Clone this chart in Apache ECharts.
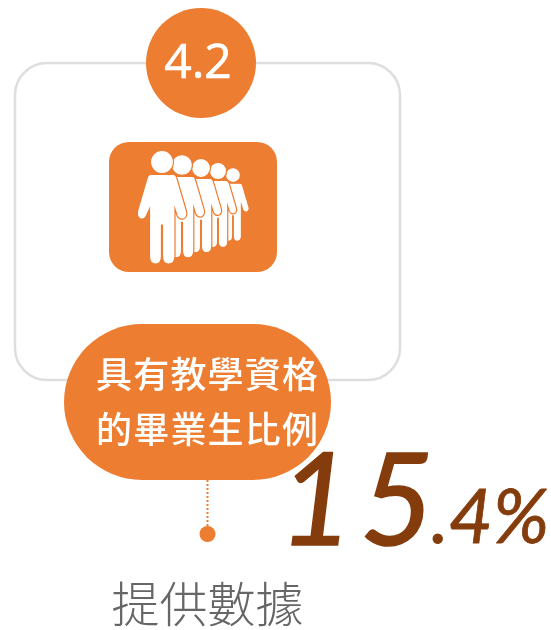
<!DOCTYPE html>
<html>
<head>
<meta charset="utf-8">
<style>
  html, body { margin: 0; padding: 0; background: #fff; }
  #chart { width: 551px; height: 630px; }
</style>
</head>
<body>
<div id="chart"></div>
<script src="https://cdn.jsdelivr.net/npm/echarts@6/dist/echarts.min.js"></script>
<script>
const indicator = ['4.2']
const titleLines = ['具有教學資格', '的畢業生比例']
const shareValues = [15.4]
const noteLabels = ['提供數據']

const ORANGE = '#ED7D31'
const BROWN = '#843C0C'
const CJK = '"Noto Sans CJK TC", "Noto Sans", sans-serif'

// 人形图标：头部圆心为原点
const personPath = 'M-11,12.5 L11,12.5 Q14,12.5 15,16.5 L24.5,49 Q26,55 21.5,57 Q17,58 15,53.5 L13,47 L13,94 Q13,102 6.5,102 Q0.5,102 0.5,94 L0.5,63 L-0.5,63 L-0.5,94 Q-0.5,102 -6.5,102 Q-12.5,102 -12.5,94 L-12.5,47 L-15.5,53.5 Q-17.5,58 -21.5,57 Q-25.5,55 -24.5,49 L-15,16.5 Q-14,12.5 -11,12.5 Z M11.5,0 A11.5,11.5 0 1 1 -11.5,0 A11.5,11.5 0 1 1 11.5,0 Z'
const people = [
  [233, 175, 0.65],
  [218, 171, 0.75],
  [201, 168, 0.83],
  [182, 165, 0.91],
  [162, 162, 1]
]

const graphics = []

// 外框
graphics.push({
  type: 'rect',
  shape: { x: 15, y: 63, width: 385, height: 317, r: 32 },
  style: { fill: 'none', stroke: '#DEDEDE', lineWidth: 2.5 }
})

// 顶部编号
graphics.push({ type: 'circle', shape: { cx: 201, cy: 63, r: 55 }, style: { fill: ORANGE } })
graphics.push({
  type: 'text', x: 198, y: 64,
  style: { text: indicator[0], fill: '#fff', stroke: '#fff', lineWidth: 0.7, font: '48px "Open Sans", sans-serif', textAlign: 'center', textVerticalAlign: 'middle' }
})

// 图标底
graphics.push({ type: 'rect', shape: { x: 109, y: 142, width: 168, height: 130, r: 20 }, style: { fill: ORANGE } })

// 标题胶囊
graphics.push({ type: 'rect', shape: { x: 64, y: 324, width: 267, height: 156, r: 78 }, style: { fill: ORANGE } })
titleLines.forEach((line, row) => {
  Array.from(line).forEach((ch, i) => {
    graphics.push({
      type: 'text', x: 114 + i * 37.2, y: 374 + row * 55,
      style: { text: ch, fill: '#fff', font: '500 36px ' + CJK, textAlign: 'center', textVerticalAlign: 'middle' }
    })
  })
})

// 虚线和圆点
graphics.push({
  type: 'line',
  shape: { x1: 207.5, y1: 480, x2: 207.5, y2: 526 },
  style: { stroke: ORANGE, lineWidth: 2, lineDash: [2, 2] }
})
graphics.push({ type: 'circle', shape: { cx: 207.5, cy: 534, r: 8 }, style: { fill: ORANGE } })

// 数值：数字逐个定位，字距比字体默认的宽
const valueParts = String(shareValues[0]).split('.')
Array.from(valueParts[0]).forEach((ch, i) => {
  graphics.push({
    type: 'text', x: 279 + i * 81, y: 440,
    style: { text: ch, fill: BROWN, stroke: BROWN, lineWidth: 1.5, font: 'italic 128px Lato, sans-serif', textAlign: 'left', textVerticalAlign: 'top' }
  })
})
graphics.push({
  type: 'text', x: 431, y: 480,
  style: { text: '.' + valueParts[1] + '%', fill: BROWN, stroke: BROWN, lineWidth: 0.8, font: 'italic 76px Lato, sans-serif', textAlign: 'left', textVerticalAlign: 'top' }
})

// 注释
graphics.push({
  type: 'text', x: 207.5, y: 604,
  style: { text: noteLabels[0], fill: '#666', font: '300 48px ' + CJK, textAlign: 'center', textVerticalAlign: 'middle' }
})

const chart = echarts.init(document.getElementById('chart'), null, { renderer: 'canvas' })
chart.setOption({
  animation: false,
  backgroundColor: '#fff',
  graphic: { elements: graphics },
  series: [{
    type: 'custom',
    coordinateSystem: 'none',
    silent: true,
    data: people,
    renderItem: (params, api) => {
      const s = api.value(2)
      return {
        type: 'path',
        x: api.value(0),
        y: api.value(1),
        scaleX: s,
        scaleY: s,
        shape: { pathData: personPath },
        style: { fill: '#fff', stroke: ORANGE, lineWidth: 1.2 / s }
      }
    }
  }]
})
</script>
</body>
</html>
